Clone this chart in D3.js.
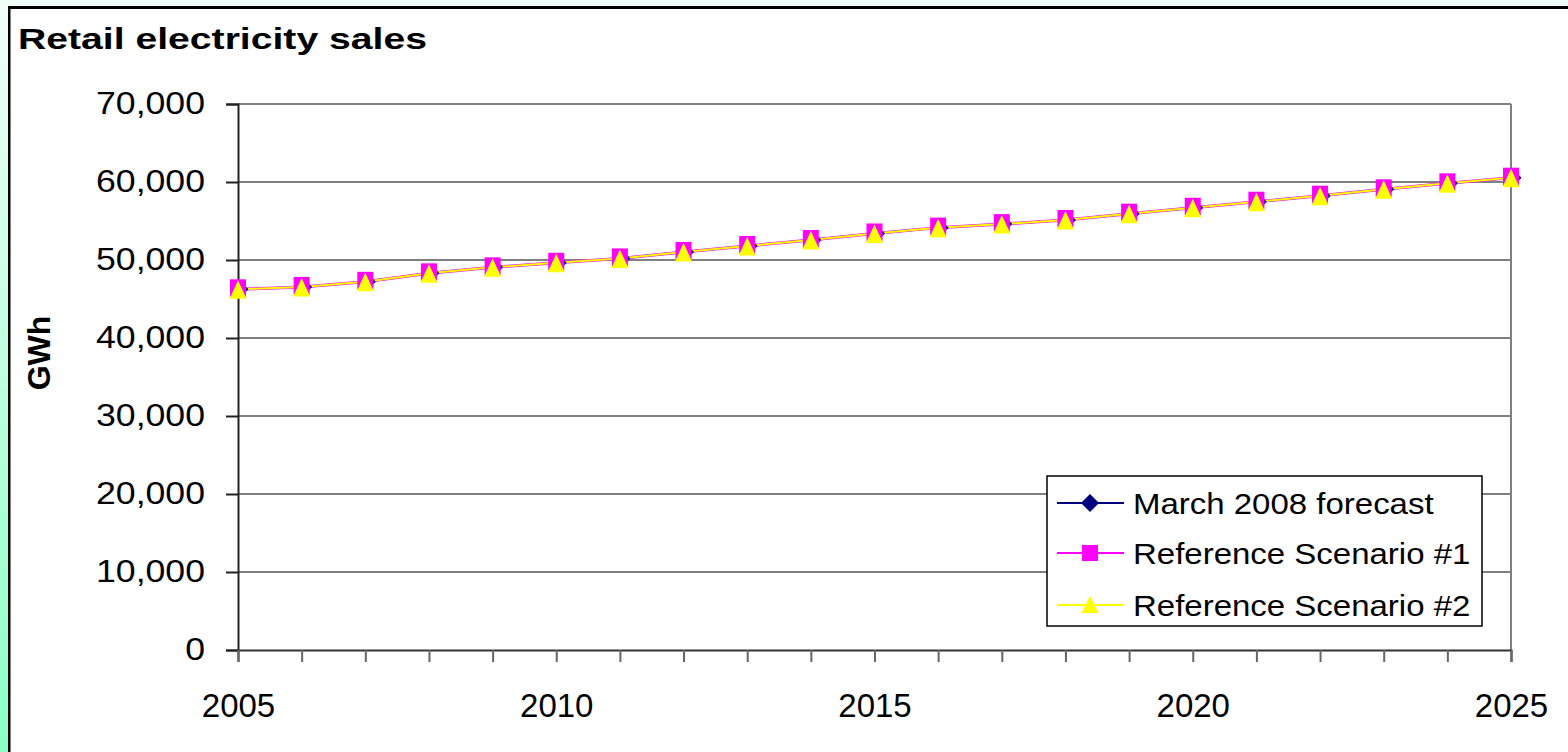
<!DOCTYPE html>
<html>
<head>
<meta charset="utf-8">
<script src="https://cdn.jsdelivr.net/npm/d3@7"></script>
<style>
  html, body { margin: 0; padding: 0; background: #ffffff; }
  svg { display: block; font-family: Arial, "Liberation Sans", sans-serif; }
</style>
</head>
<body>
<svg id="chart" width="1568" height="752"></svg>
<script>
// Retail electricity sales, GWh per year
const years = [2005, 2006, 2007, 2008, 2009, 2010, 2011, 2012, 2013, 2014, 2015,
               2016, 2017, 2018, 2019, 2020, 2021, 2022, 2023, 2024, 2025];
const march2008Forecast = [46240, 46540, 47200, 48290, 49060, 49640, 50200, 51030, 51800, 52560, 53400,
                           54150, 54600, 55130, 55940, 56700, 57470, 58240, 59060, 59830, 60550];
const referenceScenario1 = [46240, 46540, 47200, 48290, 49060, 49640, 50200, 51030, 51800, 52560, 53400,
                            54150, 54600, 55130, 55940, 56700, 57470, 58240, 59060, 59830, 60550];
const referenceScenario2 = [46240, 46540, 47200, 48290, 49060, 49640, 50200, 51030, 51800, 52560, 53400,
                            54150, 54600, 55130, 55940, 56700, 57470, 58240, 59060, 59830, 60550];
const yTicks = [0, 10000, 20000, 30000, 40000, 50000, 60000, 70000];
const xLabelYears = [2005, 2010, 2015, 2020, 2025];
const seriesNames = ["March 2008 forecast", "Reference Scenario #1", "Reference Scenario #2"];

const svg = d3.select("#chart");
const W = 1568, H = 752;

// frame background: pale strip on top, green gradient on the left
const defs = svg.append("defs");
const grad = defs.append("linearGradient").attr("id", "sideGrad")
  .attr("x1", 0).attr("y1", 0).attr("x2", 0).attr("y2", 1);
grad.append("stop").attr("offset", "0%").attr("stop-color", "#f2fff9");
grad.append("stop").attr("offset", "100%").attr("stop-color", "#8affc6");

svg.append("rect").attr("x", 0).attr("y", 0).attr("width", W).attr("height", H).attr("fill", "#ffffff");
svg.append("rect").attr("x", 0).attr("y", 0).attr("width", W).attr("height", 7).attr("fill", "#f0fff8");
svg.append("rect").attr("x", 0).attr("y", 0).attr("width", 8).attr("height", H).attr("fill", "url(#sideGrad)");
svg.append("rect").attr("x", 8).attr("y", 6).attr("width", W - 8).attr("height", 3).attr("fill", "#000");
svg.append("rect").attr("x", 8).attr("y", 6).attr("width", 2.5).attr("height", H - 6).attr("fill", "#000");

// plot area
const plot = { left: 238, right: 1511, top: 104, bottom: 650 };
const x = d3.scaleLinear().domain([2005, 2025]).range([plot.left, plot.right]);
const y = d3.scaleLinear().domain([0, 70000]).range([plot.bottom, plot.top]);

// horizontal gridlines
svg.append("g").selectAll("line").data(yTicks.filter(d => d > 0)).join("line")
  .attr("x1", plot.left).attr("x2", plot.right)
  .attr("y1", d => y(d)).attr("y2", d => y(d))
  .attr("stroke", "#808080").attr("stroke-width", 2);
// right border of the plot
svg.append("line")
  .attr("x1", plot.right).attr("x2", plot.right)
  .attr("y1", plot.top).attr("y2", plot.bottom)
  .attr("stroke", "#808080").attr("stroke-width", 2);

// y axis
const yAxis = svg.append("g").attr("transform", `translate(${plot.left},0)`)
  .call(d3.axisLeft(y).tickValues(yTicks).tickSize(12).tickPadding(21).tickFormat(d3.format(",")));
yAxis.select(".domain").attr("stroke", "#222").attr("stroke-width", 2);
yAxis.selectAll(".tick line").attr("stroke", "#222").attr("stroke-width", 2);
yAxis.selectAll(".tick text")
  .attr("fill", "#000").attr("font-size", 31).attr("font-family", "Arial, 'Liberation Sans', sans-serif")
  .style("transform-box", "fill-box").style("transform-origin", "right center")
  .style("transform", "scaleX(1.15)");

// x axis
const xAxis = svg.append("g").attr("transform", `translate(0,${plot.bottom})`)
  .call(d3.axisBottom(x).tickValues(years).tickSize(12).tickPadding(32)
    .tickFormat(d => xLabelYears.includes(d) ? String(d) : ""));
xAxis.select(".domain").attr("stroke", "#333").attr("stroke-width", 2);
xAxis.selectAll(".tick line").attr("stroke", "#666").attr("stroke-width", 2);
xAxis.selectAll(".tick text")
  .attr("fill", "#000").attr("font-size", 33).attr("font-family", "Arial, 'Liberation Sans', sans-serif");

// series lines
const line = vals => d3.line().x((d, i) => x(years[i])).y(d => y(d))(vals);
svg.append("path").attr("d", line(march2008Forecast)).attr("fill", "none")
  .attr("stroke", "#000080").attr("stroke-width", 2);
svg.append("path").attr("d", line(referenceScenario1)).attr("fill", "none")
  .attr("stroke", "#ff00ff").attr("stroke-width", 3);
svg.append("path").attr("d", line(referenceScenario2)).attr("fill", "none")
  .attr("stroke", "#ffff00").attr("stroke-width", 2);

// markers
const diamond = (s) => `M0,${-s}L${s},0L0,${s}L${-s},0Z`;
const triangle = (w, top, bot) => `M0,${top}L${w},${bot}L${-w},${bot}Z`;

svg.append("g").selectAll("path").data(march2008Forecast).join("path")
  .attr("transform", (d, i) => `translate(${x(years[i]) + 7},${y(d)})`)
  .attr("d", diamond(3.5)).attr("fill", "#000080");
svg.append("g").selectAll("rect").data(referenceScenario1).join("rect")
  .attr("x", (d, i) => x(years[i]) - 8).attr("y", d => y(d) - 10)
  .attr("width", 16).attr("height", 17.5).attr("fill", "#ff00ff");
svg.append("g").selectAll("path").data(referenceScenario2).join("path")
  .attr("transform", (d, i) => `translate(${x(years[i])},${y(d)})`)
  .attr("d", triangle(8.5, -9, 9.5)).attr("fill", "#ffff00");

// title and axis label
svg.append("text").attr("x", 18).attr("y", 49)
  .attr("font-size", 29).attr("font-weight", "bold").attr("fill", "#000")
  .style("transform-box", "fill-box").style("transform-origin", "left center")
  .style("transform", "scaleX(1.35)")
  .text("Retail electricity sales");

svg.append("text")
  .attr("transform", "translate(50,353) rotate(-90)")
  .attr("text-anchor", "middle")
  .attr("font-size", 32).attr("font-weight", "bold").attr("fill", "#000")
  .text("GWh");

// legend
const lg = svg.append("g");
lg.append("rect").attr("x", 1047).attr("y", 476).attr("width", 435).attr("height", 150)
  .attr("fill", "#fff").attr("stroke", "#000").attr("stroke-width", 1.5);
const rowY = [503, 553, 605];
const lineColors = ["#000080", "#ff00ff", "#ffff00"];
seriesNames.forEach((name, i) => {
  const r = lg.append("g").attr("transform", `translate(0,${rowY[i]})`);
  r.append("line").attr("x1", 1057).attr("x2", 1124).attr("y1", 0).attr("y2", 0)
    .attr("stroke", lineColors[i]).attr("stroke-width", 2);
  if (i === 0) {
    r.append("path").attr("transform", "translate(1090,0)").attr("d", diamond(9)).attr("fill", "#000080");
  } else if (i === 1) {
    r.append("rect").attr("x", 1082).attr("y", -8).attr("width", 16).attr("height", 16).attr("fill", "#ff00ff");
  } else {
    r.append("path").attr("transform", "translate(1090,0)").attr("d", triangle(8.5, -9, 8)).attr("fill", "#ffff00");
  }
  r.append("text").attr("x", 1133).attr("y", 11)
    .attr("font-size", 30).attr("fill", "#000")
    .style("transform-box", "fill-box").style("transform-origin", "left center")
    .style("transform", "scaleX(1.1)")
    .text(name);
});
</script>
</body>
</html>
